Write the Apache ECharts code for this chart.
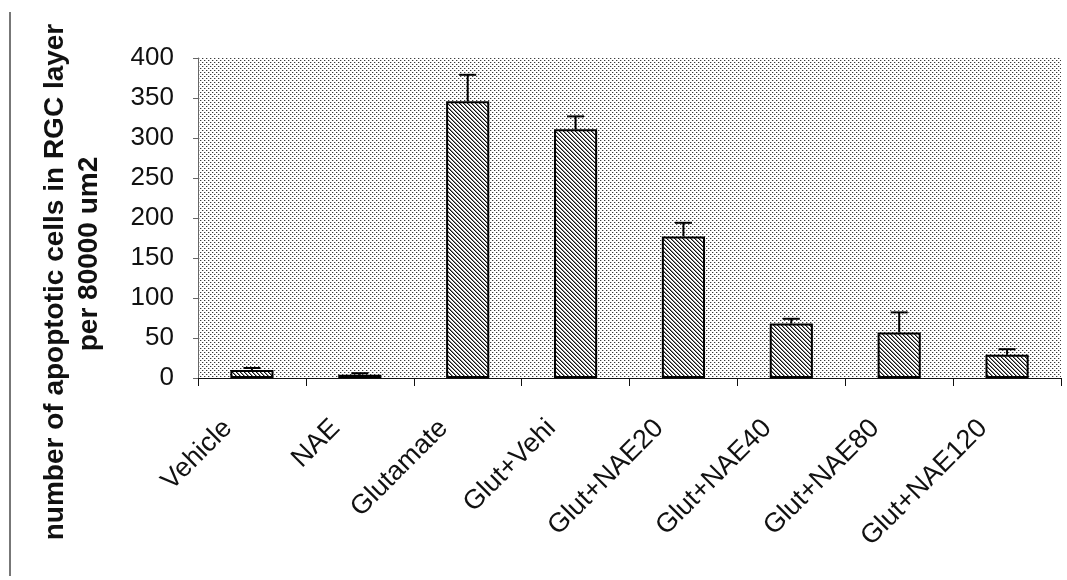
<!DOCTYPE html>
<html>
<head>
<meta charset="utf-8">
<script src="https://cdn.jsdelivr.net/npm/echarts@6/dist/echarts.min.js"></script>
<style>html,body{margin:0;padding:0;background:#fff;}#chart{width:1067px;height:580px;}</style>
</head>
<body>
<div id="chart"></div>
<script>
var categories = ['Vehicle', 'NAE', 'Glutamate', 'Glut+Vehi', 'Glut+NAE20', 'Glut+NAE40', 'Glut+NAE80', 'Glut+NAE120'];
var values = [10, 4, 346, 311, 177, 68, 57, 29];
var errors = [2.5, 2, 33, 16, 17, 6, 25, 7];
var yTicks = [0, 50, 100, 150, 200, 250, 300, 350, 400];
var titleLine1 = 'number of apoptotic cells in RGC layer';
var titleLine2 = 'per 80000 um2';

function makeTile(fn) {
  var c = document.createElement('canvas');
  c.width = 4; c.height = 4;
  var ctx = c.getContext('2d');
  ctx.fillStyle = '#ffffff';
  ctx.fillRect(0, 0, 4, 4);
  fn(ctx);
  return c;
}
var dotTile = makeTile(function (ctx) {
  ctx.fillStyle = '#3a3a3a';
  ctx.fillRect(0, 0, 1, 1);
  ctx.fillRect(2, 2, 1, 1);
  ctx.fillStyle = '#c0c0c0';
  ctx.fillRect(1, 0, 1, 1);
  ctx.fillRect(3, 2, 1, 1);
});
var hatchTile = makeTile(function (ctx) {
  for (var i = 0; i < 4; i++) {
    ctx.fillStyle = '#111111';
    ctx.fillRect(i, i, 1, 1);
    ctx.fillStyle = '#8a8a8a';
    ctx.fillRect((i + 1) % 4, i, 1, 1);
  }
});

var fam = '"Liberation Sans", Arial, sans-serif';
var chart = echarts.init(document.getElementById('chart'));
var option = {
  animation: false,
  backgroundColor: '#ffffff',
  textStyle: { fontFamily: fam },
  grid: {
    left: 198, right: 6, top: 58, bottom: 202,
    show: true,
    backgroundColor: { image: dotTile, repeat: 'repeat' },
    borderWidth: 0
  },
  xAxis: {
    type: 'category',
    data: categories,
    axisLine: { lineStyle: { color: '#111', width: 1 } },
    axisTick: { show: true, inside: false, length: 8, lineStyle: { color: '#111' } },
    axisLabel: { interval: 0, rotate: 45, margin: 22, padding: [0, 34, 0, 0], fontSize: 27, color: '#111', fontFamily: fam },
    splitLine: { show: false }
  },
  yAxis: {
    type: 'value',
    min: 0, max: 400, interval: 50,
    axisLine: { show: true, lineStyle: { color: '#666', width: 1 } },
    axisTick: { show: true, length: 5, lineStyle: { color: '#666' } },
    axisLabel: {
      margin: 24, fontSize: 26, color: '#111', fontFamily: fam,
      formatter: function (v) { return yTicks.indexOf(v) >= 0 ? String(v) : ''; }
    },
    splitLine: { show: false }
  },
  graphic: [
    { type: 'line', shape: { x1: 10, y1: 12, x2: 10, y2: 576 }, style: { stroke: '#777', lineWidth: 2 } },
    { type: 'text', x: 55, y: 282, rotation: Math.PI / 2,
      style: { text: titleLine1, font: 'bold 28px "Liberation Sans", Arial, sans-serif', fill: '#111', align: 'center', verticalAlign: 'middle' } },
    { type: 'text', x: 89, y: 254, rotation: Math.PI / 2,
      style: { text: titleLine2, font: 'bold 28px "Liberation Sans", Arial, sans-serif', fill: '#111', align: 'center', verticalAlign: 'middle' } }
  ],
  series: [
    {
      type: 'bar',
      data: values,
      barWidth: '40%',
      itemStyle: { color: { image: hatchTile, repeat: 'repeat' }, borderColor: '#000', borderWidth: 2 },
      z: 2
    },
    {
      type: 'custom',
      data: values.map(function (v, i) { return [i, v, v + errors[i]]; }),
      renderItem: function (params, api) {
        var base = api.coord([api.value(0), api.value(1)]);
        var top = api.coord([api.value(0), api.value(2)]);
        var hw = 8.5;
        return {
          type: 'group',
          children: [
            { type: 'line', shape: { x1: base[0], y1: base[1], x2: top[0], y2: top[1] }, style: { stroke: '#000', lineWidth: 2 } },
            { type: 'line', shape: { x1: top[0] - hw, y1: top[1], x2: top[0] + hw, y2: top[1] }, style: { stroke: '#000', lineWidth: 2 } }
          ]
        };
      },
      z: 3
    }
  ]
};
chart.setOption(option);
</script>
</body>
</html>
